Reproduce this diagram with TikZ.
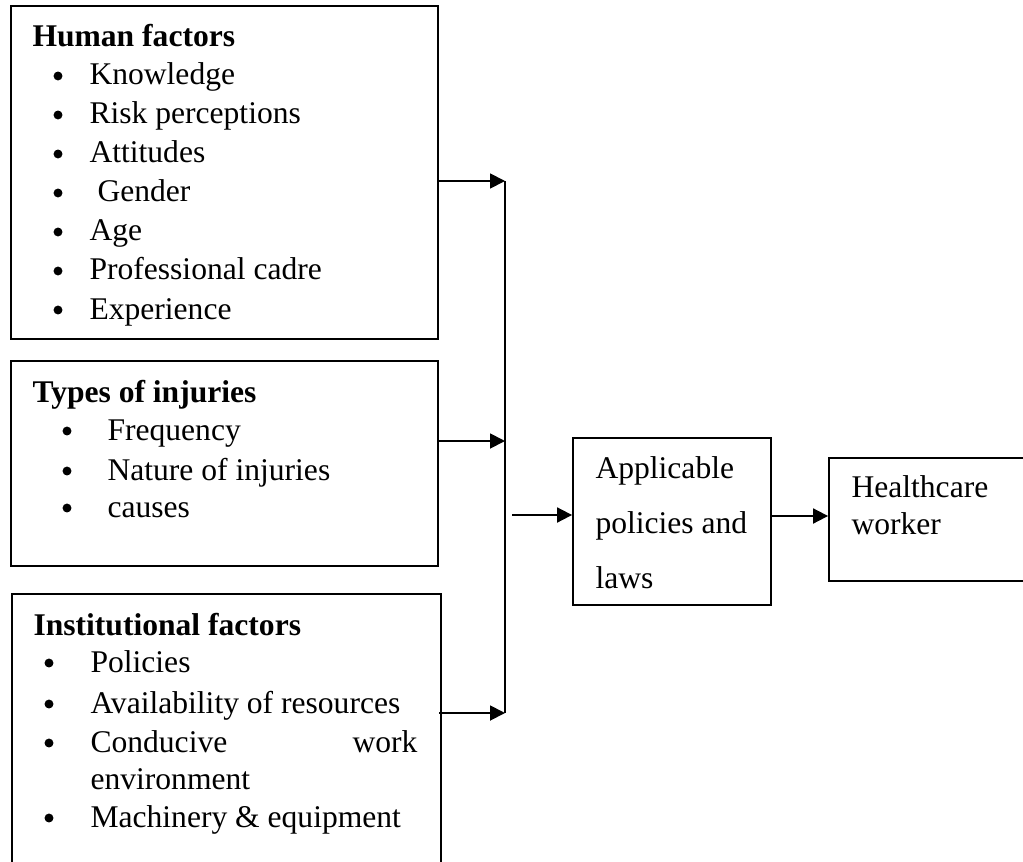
\documentclass[tikz,border=0pt]{standalone}
\usepackage{fontspec}
\setmainfont{Liberation Serif}
\usetikzlibrary{arrows.meta,fit}

\tikzset{
  box/.style={draw, line width=0.7pt, inner sep=0pt},
  txt/.style={anchor=base west, inner sep=0pt, font=\fontsize{12pt}{14pt}\selectfont},
  head/.style={txt, font=\fontsize{12pt}{14pt}\selectfont\bfseries},
  bul/.style={circle, fill=black, inner sep=0pt, minimum size=3.4pt},
  link/.style={line width=0.7pt},
  arr/.style={link, -{Triangle[length=5.7pt,width=5.7pt]}}
}

\begin{document}
\begin{tikzpicture}[x=0.38pt, y=-0.38pt]
\clip (0,0) rectangle (1023,861);
\fill[white] (0,0) rectangle (1023,861);

% ---- left column: the three groups of factors ----
\node[box, fit={(11,6) (438,339)}] (human) {};
\node[head] (humanT) at (32,47) {Human factors};
\foreach \y/\t/\x [count=\i] in {85/Knowledge/89, 124/Risk perceptions/89, 163/Attitudes/89,
    202/Gender/97, 241/Age/89, 280/Professional cadre/89, 319/Experience/89} {
  \node[bul] (hb\i) at (58,\y-9) {};
  \node[txt] (hi\i) at (\x,\y) {\t};
}

\node[box, fit={(11,361) (438,566)}] (injury) {};
\node[head] (injuryT) at (32,402) {Types of injuries};
\foreach \y/\t [count=\i] in {440/Frequency, 480/Nature of injuries, 517/causes} {
  \node[bul] (ib\i) at (67,\y-9) {};
  \node[txt] (ii\i) at (107,\y) {\t};
}

\node[box, fit={(12,594) (441,880)}] (inst) {};
\node[head] (instT) at (33,635) {Institutional factors};
\node[bul] (sb1) at (49,663) {};
\node[txt] (si1) at (90,672) {Policies};
\node[bul] (sb2) at (49,704) {};
\node[txt] (si2) at (90,713) {Availability of resources};
\node[bul] (sb3) at (49,743) {};
\node[txt] (si3) at (90,752) {Conducive};
\node[txt, anchor=base east] (si3b) at (418,752) {work};
\node[txt] (si3c) at (90,789) {environment};
\node[bul] (sb4) at (49,818) {};
\node[txt] (si4) at (90,827) {Machinery \& equipment};

% ---- right column ----
\node[box, fit={(573,438) (771,605)}] (apl) {};
\node[txt] (aplA) at (595,478) {Applicable};
\node[txt] (aplB) at (595,533) {policies and};
\node[txt] (aplC) at (595,588) {laws};

\node[box, fit={(829,458) (1040,581)}] (hcw) {};
\node[txt] (hcwA) at (851,497) {Healthcare};
\node[txt] (hcwB) at (851,534) {worker};

% ---- connectors ----
\coordinate (j1) at (505,181);
\coordinate (j2) at (505,441);
\coordinate (j3) at (505,713);
\coordinate (src) at (512,515);
\coordinate (mid) at (800,516);

\draw[arr] (human.east |- j1) -- (j1);
\draw[arr] (injury.east |- j2) -- (j2);
\draw[arr] ([xshift=-1pt]inst.east |- j3) -- (j3);
\draw[link] (j1) -- (j3);
\draw[arr] (src) -- (apl.west |- src);
\draw[arr] (apl.east |- mid) -- (hcw.west |- mid);
\end{tikzpicture}
\end{document}
